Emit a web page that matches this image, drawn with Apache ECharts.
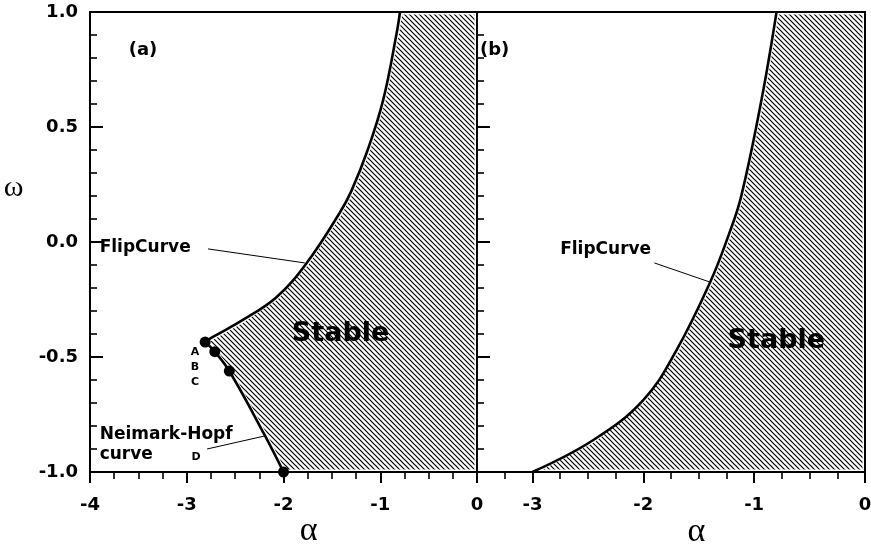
<!DOCTYPE html>
<html>
<head>
<meta charset="utf-8">
<script src="https://cdn.jsdelivr.net/npm/echarts@6/dist/echarts.min.js"></script>
<style>
  html, body { margin: 0; padding: 0; background: #fff; }
  #chart { width: 871px; height: 547px; }
</style>
</head>
<body>
<div id="chart"></div>
<script>
// ---- data: stability boundaries in the (alpha, omega) plane ----
// Panel (a): flip curve, from point A up to the top of the domain
const flipCurveA = [
  [-2.81, -0.435], [-2.73, -0.413], [-2.42, -0.339], [-2.07, -0.239],
  [-1.76, -0.091], [-1.42, 0.126], [-1.30, 0.220], [-1.13, 0.400],
  [-0.97, 0.617], [-0.83, 0.909], [-0.796, 1.0]
];
// Panel (a): Neimark-Hopf curve, from A down to D
const neimarkHopfA = [
  [-2.81, -0.435], [-2.71, -0.477], [-2.56, -0.561], [-2.19, -0.843], [-2.0, -1.0]
];
// Marked points A, B, C, D on the Neimark-Hopf curve
const pointNames = ['A', 'B', 'C', 'D'];
const markedPoints = [neimarkHopfA[0], neimarkHopfA[1], neimarkHopfA[2], neimarkHopfA[4]];
// Panel (b): flip curve
const flipCurveB = [
  [-3.0, -1.0], [-2.45, -0.861], [-2.0, -0.687], [-1.70, -0.470], [-1.395, -0.173],
  [-1.23, 0.030], [-1.118, 0.196], [-0.934, 0.617], [-0.798, 1.0]
];
// Axis ranges and tick labels
const alphaRangeA = [-4, 0];
const alphaRangeB = [-3.5, 0];
const omegaRange = [-1, 1];
const alphaMajorB = [-3, -2, -1, 0];

// ---- stable regions: bounded by the curves and the right/top/bottom edges ----
const corners = [[alphaRangeA[1], omegaRange[1]], [alphaRangeA[1], omegaRange[0]]];
const stableA = neimarkHopfA.slice().reverse().concat(flipCurveA.slice(1), corners);
const stableB = flipCurveB.concat(corners);

// Diagonal hatch tile
function hatchTile() {
  const c = document.createElement('canvas');
  c.width = 5; c.height = 5;
  const g = c.getContext('2d');
  g.strokeStyle = '#000';
  g.lineWidth = 1.2;
  g.beginPath();
  g.moveTo(-1, -1); g.lineTo(6, 6);
  g.moveTo(-1, 4); g.lineTo(1, 6);
  g.moveTo(4, -1); g.lineTo(6, 1);
  g.stroke();
  return c;
}
const hatch = { image: hatchTile(), repeat: 'repeat' };

const FONT = '"DejaVu Sans", Arial, sans-serif';
const SERIF = '"Liberation Serif", "Times New Roman", serif';

// Annotation texts, anchored in data coordinates
const notesA = [
  { at: [-3.6, 0.835], text: '(a)', size: 18, align: 'left' },
  { at: [-3.9, -0.026], text: 'FlipCurve', size: 17, align: 'left' },
  { at: [-1.41, -0.40], text: 'Stable', size: 27, align: 'center' },
  { at: [-2.915, -0.478], text: pointNames[0], size: 11, align: 'center' },
  { at: [-2.915, -0.543], text: pointNames[1], size: 11, align: 'center' },
  { at: [-2.915, -0.609], text: pointNames[2], size: 11, align: 'center' },
  { at: [-3.9, -0.839], text: 'Neimark-Hopf', size: 17, align: 'left' },
  { at: [-3.9, -0.926], text: 'curve', size: 17, align: 'left' },
  { at: [-2.904, -0.935], text: pointNames[3], size: 11, align: 'center' },
  { at: [-1.74, -1.257], text: 'α', size: 34, align: 'center', serif: true },
  { at: [-4.79, 0.235], text: 'ω', size: 30, align: 'center', serif: true }
];
const leadersA = [
  [[-2.78, -0.030], [-1.78, -0.091]],
  [[-2.79, -0.900], [-2.19, -0.843]]
];
const notesB = [
  { at: [-3.473, 0.835], text: '(b)', size: 18, align: 'left' },
  { at: [-2.75, -0.035], text: 'FlipCurve', size: 17, align: 'left' },
  { at: [-0.80, -0.43], text: 'Stable', size: 27, align: 'center' },
  { at: [-1.52, -1.261], text: 'α', size: 34, align: 'center', serif: true }
];
const leadersB = [
  [[-1.90, -0.091], [-1.40, -0.174]]
];

function regionSeries(points, xi, yi) {
  return {
    type: 'custom', xAxisIndex: xi, yAxisIndex: yi, z: 1, silent: true,
    data: [0],
    renderItem: function (params, api) {
      return {
        type: 'polygon',
        shape: { points: points.map(p => api.coord(p)) },
        style: { fill: hatch, stroke: '#fff', lineWidth: 5, lineJoin: 'round' }
      };
    }
  };
}
function curveSeries(points, xi, yi) {
  return {
    type: 'line', xAxisIndex: xi, yAxisIndex: yi, z: 20, silent: true,
    data: points, smooth: 0.4, symbol: 'none',
    lineStyle: { color: '#000', width: 2.6, opacity: 1 }
  };
}
function noteSeries(notes, xi, yi) {
  return {
    type: 'custom', xAxisIndex: xi, yAxisIndex: yi, z: 30, silent: true, clip: false,
    data: notes.map(n => n.at),
    renderItem: function (params, api) {
      const n = notes[params.dataIndex];
      const p = api.coord(n.at);
      return {
        type: 'text', x: p[0], y: p[1],
        style: {
          text: n.text, fill: '#000',
          fontSize: n.size, fontWeight: n.serif ? 'normal' : 'bold',
          fontFamily: n.serif ? SERIF : FONT,
          align: n.align, verticalAlign: 'middle'
        }
      };
    }
  };
}
function leaderSeries(lines, xi, yi) {
  return {
    type: 'custom', xAxisIndex: xi, yAxisIndex: yi, z: 25, silent: true,
    data: lines.map((l, i) => i),
    renderItem: function (params, api) {
      const l = lines[params.dataIndex];
      const a = api.coord(l[0]), b = api.coord(l[1]);
      return {
        type: 'line',
        shape: { x1: a[0], y1: a[1], x2: b[0], y2: b[1] },
        style: { stroke: '#000', lineWidth: 1 }
      };
    }
  };
}

const axisLine = { show: true, onZero: false, lineStyle: { color: '#000', width: 2 } };
const tickLabel = { color: '#000', fontSize: 18, fontWeight: 'bold', fontFamily: FONT };
const lineOnly = {
  axisLine: axisLine, axisTick: { show: false }, axisLabel: { show: false },
  splitLine: { show: false }, z: 40
};
const omegaAxis = (grid, showLabels) => ({
  type: 'value', gridIndex: grid, position: 'left',
  min: omegaRange[0], max: omegaRange[1], interval: 0.5, z: 40,
  axisLine: axisLine,
  axisTick: { show: true, inside: true, length: 13, lineStyle: { color: '#000', width: 2 } },
  minorTick: { show: true, splitNumber: 5, length: 7, lineStyle: { color: '#000', width: 1.6 } },
  axisLabel: Object.assign({ show: showLabels, margin: 12, formatter: v => v.toFixed(1) }, tickLabel),
  splitLine: { show: false }, minorSplitLine: { show: false }
});

const chart = echarts.init(document.getElementById('chart'), null, { renderer: 'canvas' });
chart.setOption({
  animation: false,
  backgroundColor: '#fff',
  grid: [
    { left: 90, top: 12, width: 387, height: 460, outerBoundsMode: 'none' },
    { left: 477, top: 12, width: 388, height: 460, outerBoundsMode: 'none' }
  ],
  xAxis: [
    { // 0: panel (a) alpha axis
      type: 'value', gridIndex: 0, position: 'bottom',
      min: alphaRangeA[0], max: alphaRangeA[1], interval: 1, z: 40,
      axisLine: axisLine,
      axisTick: { show: true, inside: false, length: 11, lineStyle: { color: '#000', width: 2 } },
      minorTick: { show: true, splitNumber: 4, length: 7, lineStyle: { color: '#000', width: 1.6 } },
      axisLabel: Object.assign({ margin: 24 }, tickLabel),
      splitLine: { show: false }, minorSplitLine: { show: false }
    },
    Object.assign({ type: 'value', gridIndex: 0, position: 'top', min: alphaRangeA[0], max: alphaRangeA[1] }, lineOnly),
    { // 2: panel (b) alpha axis, quarter ticks
      type: 'value', gridIndex: 1, position: 'bottom',
      min: alphaRangeB[0], max: alphaRangeB[1], interval: 0.25, z: 40,
      axisLine: axisLine,
      axisTick: { show: true, inside: false, length: 7, lineStyle: { color: '#000', width: 1.6 } },
      axisLabel: Object.assign({
        margin: 24, showMinLabel: false,
        formatter: v => (Math.abs(v - Math.round(v)) < 1e-9 ? String(Math.round(v)) : '')
      }, tickLabel),
      splitLine: { show: false }
    },
    { // 3: panel (b) major ticks at whole numbers
      type: 'value', gridIndex: 1, position: 'bottom',
      min: alphaRangeB[0], max: alphaRangeB[1], z: 40,
      axisLine: { show: false, onZero: false },
      axisTick: { show: true, inside: false, length: 11, customValues: alphaMajorB, lineStyle: { color: '#000', width: 2 } },
      axisLabel: { show: false },
      splitLine: { show: false }
    },
    Object.assign({ type: 'value', gridIndex: 1, position: 'top', min: alphaRangeB[0], max: alphaRangeB[1] }, lineOnly)
  ],
  yAxis: [
    omegaAxis(0, true),
    omegaAxis(1, false),
    Object.assign({ type: 'value', gridIndex: 1, position: 'right', min: omegaRange[0], max: omegaRange[1] }, lineOnly)
  ],
  series: [
    regionSeries(stableA, 0, 0),
    curveSeries(flipCurveA, 0, 0),
    curveSeries(neimarkHopfA, 0, 0),
    {
      type: 'scatter', xAxisIndex: 0, yAxisIndex: 0, z: 22, silent: true,
      data: markedPoints, symbol: 'circle', symbolSize: 11,
      itemStyle: { color: '#000', opacity: 1 }
    },
    leaderSeries(leadersA, 0, 0),
    noteSeries(notesA, 0, 0),

    regionSeries(stableB, 2, 1),
    curveSeries(flipCurveB, 2, 1),
    leaderSeries(leadersB, 2, 1),
    noteSeries(notesB, 2, 1)
  ]
});
</script>
</body>
</html>
